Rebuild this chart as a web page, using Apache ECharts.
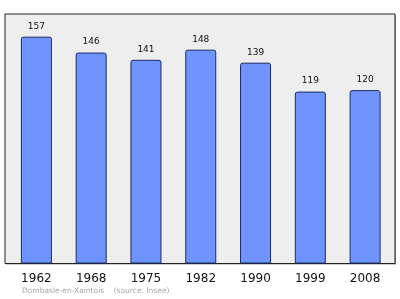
<!DOCTYPE html>
<html><head><meta charset="utf-8">
<script src="https://cdn.jsdelivr.net/npm/echarts@6/dist/echarts.min.js"></script>
<style>html,body{margin:0;padding:0;background:#fff}#c{width:400px;height:299px}</style>
</head><body><div id="c"></div>
<script>
const years = ['1962','1968','1975','1982','1990','1999','2008'];
const population = [157,146,141,148,139,119,120];
const footer = 'Dombasle-en-Xaintois    (source: Insee)';

const chart = echarts.init(document.getElementById('c'), null, {renderer:'canvas'});
chart.setOption({
  animation:false,
  graphic:[
    {type:'rect', shape:{x:6,y:15,width:390,height:249.5}, style:{fill:'#999'}, z:-2},
    {type:'rect', shape:{x:5,y:14,width:390,height:249.5}, style:{fill:'#eeeeee', stroke:'#222', lineWidth:1}, z:-1},
    {type:'text', left:22, top:287.5, style:{text:footer, fill:'#a8a8a8', fontSize:7.5, fontFamily:'DejaVu Sans'}}
  ],
  grid:{left:9, top:14, width:383.5, height:249.5},
  xAxis:{type:'category', data:years, axisLine:{show:false}, axisTick:{show:false},
    axisLabel:{color:'#111', fontSize:12, fontFamily:'DejaVu Sans', margin:9.5}},
  yAxis:{type:'value', min:0, max:172.7, show:false, splitLine:{show:false}},
  series:[{type:'bar', data:population, barWidth:31,
    itemStyle:{color:'#7094ff', borderColor:'#1a2a6a', borderWidth:1, borderRadius:[2,2,0,0]},
    label:{show:true, position:'top', distance:6, color:'#111', fontSize:9, fontFamily:'DejaVu Sans'}}]
});
</script></body></html>
